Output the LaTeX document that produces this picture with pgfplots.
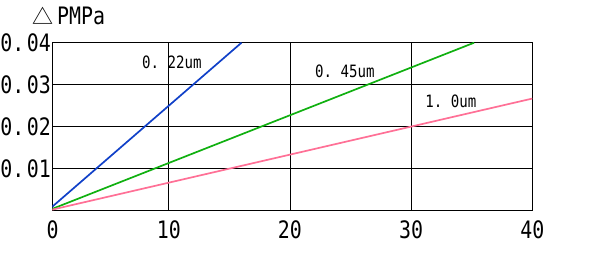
\documentclass[border=0pt]{standalone}
\usepackage{pgfplots}
\pgfplotsset{compat=1.18}
\usepackage{fontspec}
\setmainfont[FakeStretch=0.83]{DejaVu Sans Mono}
\newfontfamily\jpfont{Noto Sans CJK JP}
\definecolor{lblue}{RGB}{16,64,200}
\definecolor{lgreen}{RGB}{16,176,16}
\definecolor{lpink}{RGB}{255,112,150}
\newcommand{\ds}{\kern2.5pt}
\begin{document}
\begin{tikzpicture}
\path[use as bounding box] (-52.5pt,-56.3pt) rectangle (544.5pt,210.7pt);
\begin{axis}[
  scale only axis,
  width=479.8pt, height=168pt,
  at={(0pt,0pt)}, anchor=south west,
  xmin=0.4, xmax=40, ymin=0, ymax=0.04,
  xtick={0.4,10,20,30,40},
  xticklabels={0,10,20,30,40},
  ytick={0.01,0.02,0.03,0.04},
  yticklabels={{0.\ds 01},{0.\ds 02},{0.\ds 03},{0.\ds 04}},
  major tick length=0pt,
  grid=major,
  major grid style={black, line width=0.9pt},
  axis line style={black, line width=1pt},
  tick label style={font=\fontsize{24}{24}\selectfont},
  yticklabel style={inner sep=0pt, anchor=east, xshift=-1.5pt},
  xticklabel style={inner sep=0pt, anchor=north, yshift=-10pt},
  scaled y ticks=false,
  clip=true,
]
\addplot[lblue, line width=1.7pt] coordinates {(0,0) (16.0,0.04)};
\addplot[lgreen, line width=1.7pt] coordinates {(0,0) (35.2,0.04)};
\addplot[lpink, line width=1.7pt] coordinates {(0,0) (40,0.0267)};
\node[font=\fontsize{17}{17}\selectfont, inner sep=0pt] at (axis cs:10.26,0.03529) {0.\ 22um};
\node[font=\fontsize{17}{17}\selectfont, inner sep=0pt] at (axis cs:24.53,0.03326) {0.\ 45um};
\node[font=\fontsize{17}{17}\selectfont, inner sep=0pt] at (axis cs:33.28,0.02612) {1.\ 0um};
\end{axis}
\node[anchor=west, inner sep=0pt, font=\fontsize{24}{24}\selectfont] at (-20.5pt,194.7pt) {{\jpfont\fontsize{21}{21}\selectfont △}\kern4pt PMPa};
\end{tikzpicture}
\end{document}
